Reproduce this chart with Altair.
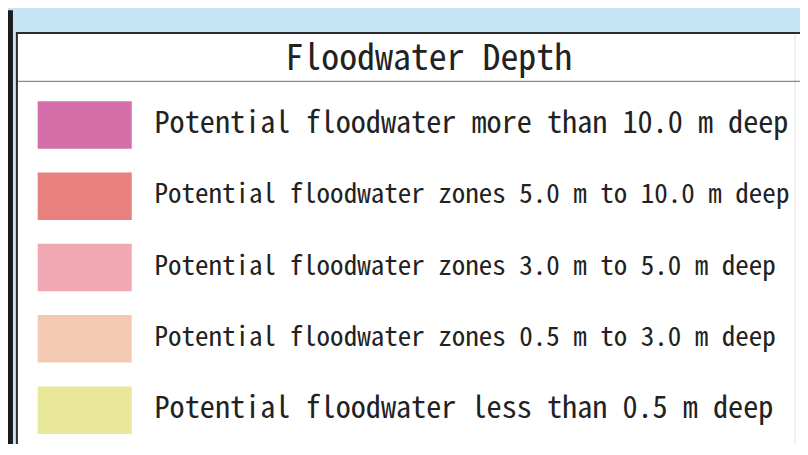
import altair as alt
import pandas as pd

title_text = "Floodwater Depth"
labels = [
    "Potential floodwater more than 10.0 m deep",
    "Potential floodwater zones 5.0 m to 10.0 m deep",
    "Potential floodwater zones 3.0 m to 5.0 m deep",
    "Potential floodwater zones 0.5 m to 3.0 m deep",
    "Potential floodwater less than 0.5 m deep",
]
colors = ["#D56FAA", "#E8807F", "#F0A9B2", "#F5CAB4", "#E8E898"]

df = pd.DataFrame({"label": labels, "color": colors})

FONT = "Noto Sans Mono CJK JP, Liberation Mono, monospace"
W, H = 800, 436

yscale = alt.Scale(domain=labels, range=[80, 440], paddingInner=1/3, paddingOuter=1/6)
ycat = alt.Y("label:N", scale=yscale, axis=None, sort=labels)
color_enc = alt.Color("label:N", scale=alt.Scale(domain=labels, range=colors), legend=None)

one = pd.DataFrame({"t": [title_text]})
base1 = alt.Chart(one)

black_bar = base1.mark_rect(color="#1b1b1b").encode(
    x=alt.value(0), x2=alt.value(5), y=alt.value(0), y2=alt.value(H + 20)
)
white_box = base1.mark_rect(color="#ffffff", stroke="#2b2b2b", strokeWidth=2).encode(
    x=alt.value(9), x2=alt.value(W + 20), y=alt.value(23), y2=alt.value(H + 40)
)
right_line = base1.mark_rule(color="#e2e2e2", strokeWidth=1).encode(
    x=alt.value(795), y=alt.value(24), y2=alt.value(H + 20)
)
sep = base1.mark_rule(color="#8a8a8a", strokeWidth=1.2).encode(
    x=alt.value(10), x2=alt.value(W), y=alt.value(72)
)
title = base1.mark_text(font=FONT, fontSize=36.2, color="#222222", align="center", baseline="middle").encode(
    x=alt.value(425), y=alt.value(49), text="t:N"
)

base = alt.Chart(df)
swatches = base.mark_rect().encode(
    x=alt.value(30), x2=alt.value(125), y=ycat, color=color_enc
)
texts = base.mark_text(font=FONT, color="#222222", align="left", baseline="middle", dy=-1).encode(
    x=alt.value(148),
    y=ycat,
    text="label:N",
    size=alt.condition("indexof(datum.label, 'zones') >= 0", alt.value(27.3), alt.value(30.5)),
)

chart = alt.layer(black_bar, white_box, right_line, sep, title, swatches, texts).properties(
    width=W, height=H, autosize=alt.AutoSizeParams(type="none"), padding=0,
    background="#C6E4F5",
).configure_view(strokeWidth=0)

chart.save("out.html", embed_options={"renderer": "svg", "actions": False})
